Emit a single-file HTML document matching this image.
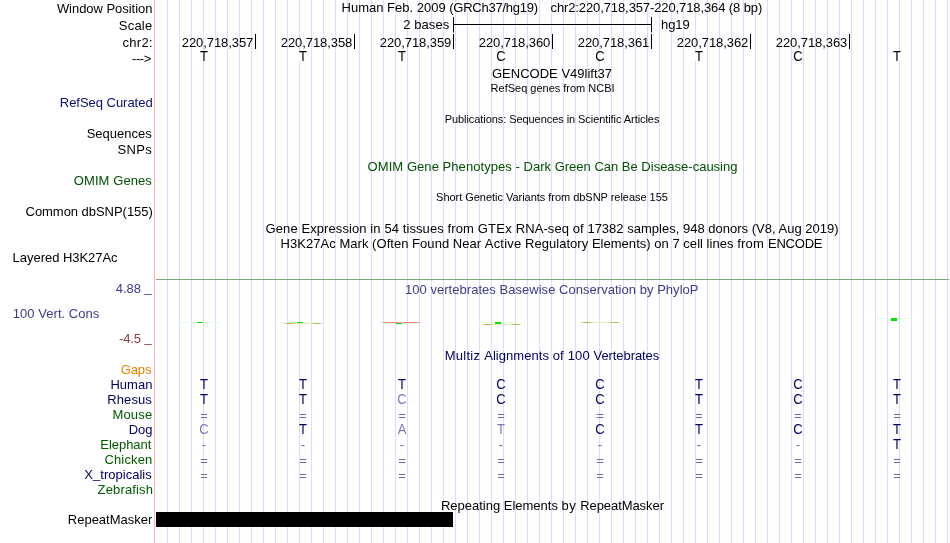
<!DOCTYPE html>
<html><head><meta charset="utf-8"><title>UCSC Genome Browser chr2:220,718,357-220,718,364</title>
<style>
html,body{margin:0;padding:0;background:#fff;}
body{width:950px;height:543px;position:relative;overflow:hidden;font-family:"Liberation Sans",Arial,Helvetica,sans-serif;font-size:13px;color:#000;}
.t{position:absolute;white-space:pre;line-height:16px;height:16px;}
.s{font-size:11px;}
.b{width:40px;text-align:center;}
.k{transform:scaleY(1.08);transform-origin:0 12px;}
.bx{position:absolute;}
.gl{position:absolute;top:0;width:1px;height:543px;background:rgb(220,220,255);}
</style></head><body>
<div class="gl" style="left:167px"></div>
<div class="gl" style="left:179px"></div>
<div class="gl" style="left:191px"></div>
<div class="gl" style="left:203px"></div>
<div class="gl" style="left:215px"></div>
<div class="gl" style="left:227px"></div>
<div class="gl" style="left:239px"></div>
<div class="gl" style="left:251px"></div>
<div class="gl" style="left:263px"></div>
<div class="gl" style="left:275px"></div>
<div class="gl" style="left:287px"></div>
<div class="gl" style="left:299px"></div>
<div class="gl" style="left:311px"></div>
<div class="gl" style="left:323px"></div>
<div class="gl" style="left:335px"></div>
<div class="gl" style="left:347px"></div>
<div class="gl" style="left:359px"></div>
<div class="gl" style="left:371px"></div>
<div class="gl" style="left:383px"></div>
<div class="gl" style="left:395px"></div>
<div class="gl" style="left:407px"></div>
<div class="gl" style="left:419px"></div>
<div class="gl" style="left:431px"></div>
<div class="gl" style="left:443px"></div>
<div class="gl" style="left:455px"></div>
<div class="gl" style="left:467px"></div>
<div class="gl" style="left:479px"></div>
<div class="gl" style="left:491px"></div>
<div class="gl" style="left:503px"></div>
<div class="gl" style="left:515px"></div>
<div class="gl" style="left:527px"></div>
<div class="gl" style="left:539px"></div>
<div class="gl" style="left:551px"></div>
<div class="gl" style="left:563px"></div>
<div class="gl" style="left:575px"></div>
<div class="gl" style="left:587px"></div>
<div class="gl" style="left:599px"></div>
<div class="gl" style="left:611px"></div>
<div class="gl" style="left:623px"></div>
<div class="gl" style="left:635px"></div>
<div class="gl" style="left:647px"></div>
<div class="gl" style="left:659px"></div>
<div class="gl" style="left:671px"></div>
<div class="gl" style="left:683px"></div>
<div class="gl" style="left:695px"></div>
<div class="gl" style="left:707px"></div>
<div class="gl" style="left:719px"></div>
<div class="gl" style="left:731px"></div>
<div class="gl" style="left:743px"></div>
<div class="gl" style="left:755px"></div>
<div class="gl" style="left:767px"></div>
<div class="gl" style="left:779px"></div>
<div class="gl" style="left:791px"></div>
<div class="gl" style="left:803px"></div>
<div class="gl" style="left:815px"></div>
<div class="gl" style="left:827px"></div>
<div class="gl" style="left:839px"></div>
<div class="gl" style="left:851px"></div>
<div class="gl" style="left:863px"></div>
<div class="gl" style="left:875px"></div>
<div class="gl" style="left:887px"></div>
<div class="gl" style="left:899px"></div>
<div class="gl" style="left:911px"></div>
<div class="gl" style="left:923px"></div>
<div class="gl" style="left:935px"></div>
<div class="gl" style="left:947px"></div>
<div class="bx" style="left:154px;top:0;width:1px;height:543px;background:rgb(255,180,180)"></div>
<div class="bx" style="left:156px;top:279px;width:793px;height:1px;background:rgb(122,170,122)"></div>
<div class="t" style="left:56.90px;top:1.00px;letter-spacing:-0.039px;color:#000">Window Position</div>
<div class="t" style="left:118.85px;top:18.00px;letter-spacing:0.188px;color:#000">Scale</div>
<div class="t" style="left:122.40px;top:35.00px;letter-spacing:0.337px;color:#000">chr2:</div>
<div class="t" style="left:132.00px;top:51.00px;letter-spacing:-0.433px;color:#000">---&gt;</div>
<div class="t" style="left:59.80px;top:95.00px;letter-spacing:-0.031px;color:rgb(12,12,120)">RefSeq Curated</div>
<div class="t" style="left:86.65px;top:126.00px;letter-spacing:0.006px;color:#000">Sequences</div>
<div class="t" style="left:117.55px;top:142.00px;letter-spacing:0.300px;color:#000">SNPs</div>
<div class="t" style="left:73.80px;top:173.00px;letter-spacing:0.083px;color:rgb(0,80,0)">OMIM Genes</div>
<div class="t" style="left:25.55px;top:204.00px;letter-spacing:-0.041px;color:#000">Common dbSNP(155)</div>
<div class="t" style="left:12.60px;top:250.00px;letter-spacing:-0.036px;color:#000">Layered H3K27Ac</div>
<div class="t" style="left:115.75px;top:281.00px;letter-spacing:-0.020px;color:rgb(60,60,140)">4.88 <span style="position:relative;top:-1px">_</span></div>
<div class="t" style="left:12.80px;top:306.00px;letter-spacing:0.038px;color:rgb(60,60,140)">100 Vert. Cons</div>
<div class="t" style="left:119.00px;top:331.00px;letter-spacing:-0.120px;color:rgb(140,60,60)">-4.5 <span style="position:relative;top:-1px">_</span></div>
<div class="t" style="left:120.75px;top:362.00px;letter-spacing:-0.117px;color:rgb(230,130,0)">Gaps</div>
<div class="t" style="left:110.40px;top:377.00px;letter-spacing:0.050px;color:rgb(0,0,100)">Human</div>
<div class="t" style="left:107.30px;top:392.00px;letter-spacing:0.100px;color:rgb(0,0,100)">Rhesus</div>
<div class="t" style="left:112.40px;top:407.00px;letter-spacing:0.175px;color:rgb(0,90,0)">Mouse</div>
<div class="t" style="left:128.70px;top:422.00px;letter-spacing:-0.050px;color:rgb(0,0,100)">Dog</div>
<div class="t" style="left:100.30px;top:437.00px;letter-spacing:-0.036px;color:rgb(0,90,0)">Elephant</div>
<div class="t" style="left:104.45px;top:452.00px;letter-spacing:0.150px;color:rgb(0,90,0)">Chicken</div>
<div class="t" style="left:84.35px;top:467.00px;letter-spacing:0.018px;color:rgb(0,0,100)">X<span style="position:relative;top:-1px">_</span>tropicalis</div>
<div class="t" style="left:97.60px;top:482.00px;letter-spacing:0.144px;color:rgb(0,90,0)">Zebrafish</div>
<div class="t" style="left:67.80px;top:512.00px;letter-spacing:-0.005px;color:#000">RepeatMasker</div>
<div class="t" style="left:341.60px;top:0.00px;letter-spacing:-0.002px;color:#000">Human Feb. 2009</div>
<div class="t" style="left:449.25px;top:0.00px;letter-spacing:-0.254px;color:#000">(GRCh37/hg19)</div>
<div class="t" style="left:550.50px;top:0.00px;letter-spacing:-0.106px;color:#000">chr2:220,718,357-220,718,364 (8 bp)</div>
<div class="t" style="left:491.95px;top:66.00px;letter-spacing:0.012px;color:#000">GENCODE V49lift37</div>
<div class="t s" style="left:490.60px;top:80.00px;letter-spacing:-0.005px;color:#000">RefSeq genes from NCBI</div>
<div class="t s" style="left:444.70px;top:111.00px;letter-spacing:-0.066px;color:#000">Publications: Sequences in Scientific Articles</div>
<div class="t" style="left:367.60px;top:159.00px;letter-spacing:0.060px;color:rgb(0,80,0)">OMIM Gene Phenotypes -</div>
<div class="t" style="left:523.60px;top:159.00px;letter-spacing:0.000px;color:rgb(0,80,0)">Dark Green Can Be Disease-causing</div>
<div class="t s" style="left:436.10px;top:189.00px;letter-spacing:-0.031px;color:#000">Short Genetic Variants from dbSNP release 155</div>
<div class="t" style="left:265.55px;top:221.00px;letter-spacing:0.093px;color:#000">Gene Expression in 54 tissues from</div>
<div class="t" style="left:477.65px;top:221.00px;letter-spacing:0.261px;color:#000">GTEx</div>
<div class="t" style="left:515.80px;top:221.00px;letter-spacing:0.072px;color:#000">RNA-seq of</div>
<div class="t" style="left:587.40px;top:221.00px;letter-spacing:0.010px;color:#000">17382 samples, 948 donors (V8, Aug 2019)</div>
<div class="t" style="left:280.60px;top:236.00px;letter-spacing:0.038px;color:#000">H3K27Ac Mark (Often Found Near</div>
<div class="t" style="left:484.80px;top:236.00px;letter-spacing:0.183px;color:#000">Active</div>
<div class="t" style="left:525.10px;top:236.00px;letter-spacing:0.028px;color:#000">Regulatory Elements) on 7 cell lines</div>
<div class="t" style="left:737.15px;top:236.00px;letter-spacing:0.245px;color:#000">from</div>
<div class="t" style="left:768.00px;top:236.00px;letter-spacing:-0.220px;color:#000">ENCODE</div>
<div class="t" style="left:405.00px;top:282.00px;letter-spacing:0.034px;color:rgb(60,60,140)">100 vertebrates Basewise Conservation by PhyloP</div>
<div class="t" style="left:444.70px;top:348.00px;letter-spacing:0.277px;color:rgb(0,0,100)">Multiz</div>
<div class="t" style="left:484.20px;top:348.00px;letter-spacing:0.053px;color:rgb(0,0,100)">Alignments</div>
<div class="t" style="left:552.70px;top:348.00px;letter-spacing:0.162px;color:rgb(0,0,100)">of 100</div>
<div class="t" style="left:593.60px;top:348.00px;letter-spacing:-0.090px;color:rgb(0,0,100)">Vertebrates</div>
<div class="t" style="left:440.90px;top:498.00px;letter-spacing:-0.005px;color:#000">Repeating Elements</div>
<div class="t" style="left:561.50px;top:498.00px;letter-spacing:0.452px;color:#000">by</div>
<div class="t" style="left:580.20px;top:498.00px;letter-spacing:-0.068px;color:#000">RepeatMasker</div>
<div class="t" style="left:403.25px;top:17.00px;letter-spacing:0.075px;color:#000">2 bases</div>
<div class="t" style="left:661.00px;top:17.00px;letter-spacing:-0.083px;color:#000">hg19</div>
<div class="t" style="left:181.75px;top:35.00px;letter-spacing:-0.070px;color:#000">220,718,357</div>
<div class="t" style="left:280.75px;top:35.00px;letter-spacing:-0.070px;color:#000">220,718,358</div>
<div class="t" style="left:379.75px;top:35.00px;letter-spacing:-0.070px;color:#000">220,718,359</div>
<div class="t" style="left:478.75px;top:35.00px;letter-spacing:-0.070px;color:#000">220,718,360</div>
<div class="t" style="left:577.75px;top:35.00px;letter-spacing:-0.070px;color:#000">220,718,361</div>
<div class="t" style="left:676.75px;top:35.00px;letter-spacing:-0.070px;color:#000">220,718,362</div>
<div class="t" style="left:775.75px;top:35.00px;letter-spacing:-0.070px;color:#000">220,718,363</div>
<div class="bx" style="left:453px;top:24px;width:199px;height:1px;background:#000"></div>
<div class="bx" style="left:453px;top:17px;width:1px;height:15px;background:#000"></div>
<div class="bx" style="left:651px;top:17px;width:1px;height:15px;background:#000"></div>
<div class="bx" style="left:453px;top:32px;width:1px;height:1px;background:#888"></div>
<div class="bx" style="left:651px;top:32px;width:1px;height:1px;background:#888"></div>
<div class="bx" style="left:255px;top:34px;width:1px;height:15px;background:#000"></div>
<div class="bx" style="left:354px;top:34px;width:1px;height:15px;background:#000"></div>
<div class="bx" style="left:453px;top:34px;width:1px;height:15px;background:#000"></div>
<div class="bx" style="left:552px;top:34px;width:1px;height:15px;background:#000"></div>
<div class="bx" style="left:651px;top:34px;width:1px;height:15px;background:#000"></div>
<div class="bx" style="left:750px;top:34px;width:1px;height:15px;background:#000"></div>
<div class="bx" style="left:849px;top:34px;width:1px;height:15px;background:#000"></div>
<div class="bx" style="left:200px;top:51px;width:9px;height:10px;background:#fff"></div>
<div class="t b k" style="left:184.00px;top:49.00px">T</div>
<div class="bx" style="left:299px;top:51px;width:9px;height:10px;background:#fff"></div>
<div class="t b k" style="left:283.00px;top:49.00px">T</div>
<div class="bx" style="left:398px;top:51px;width:9px;height:10px;background:#fff"></div>
<div class="t b k" style="left:382.00px;top:49.00px">T</div>
<div class="bx" style="left:497px;top:51px;width:9px;height:10px;background:#fff"></div>
<div class="t b k" style="left:481.00px;top:49.00px">C</div>
<div class="bx" style="left:596px;top:51px;width:9px;height:10px;background:#fff"></div>
<div class="t b k" style="left:580.00px;top:49.00px">C</div>
<div class="bx" style="left:695px;top:51px;width:9px;height:10px;background:#fff"></div>
<div class="t b k" style="left:679.00px;top:49.00px">T</div>
<div class="bx" style="left:794px;top:51px;width:9px;height:10px;background:#fff"></div>
<div class="t b k" style="left:778.00px;top:49.00px">C</div>
<div class="bx" style="left:893px;top:51px;width:9px;height:10px;background:#fff"></div>
<div class="t b k" style="left:877.00px;top:49.00px">T</div>
<div class="t b k" style="left:184.00px;top:377.00px;color:rgb(0,0,100)">T</div>
<div class="t b k" style="left:283.00px;top:377.00px;color:rgb(0,0,100)">T</div>
<div class="t b k" style="left:382.00px;top:377.00px;color:rgb(0,0,100)">T</div>
<div class="t b k" style="left:481.00px;top:377.00px;color:rgb(0,0,100)">C</div>
<div class="t b k" style="left:580.00px;top:377.00px;color:rgb(0,0,100)">C</div>
<div class="t b k" style="left:679.00px;top:377.00px;color:rgb(0,0,100)">T</div>
<div class="t b k" style="left:778.00px;top:377.00px;color:rgb(0,0,100)">C</div>
<div class="t b k" style="left:877.00px;top:377.00px;color:rgb(0,0,100)">T</div>
<div class="t b k" style="left:184.00px;top:392.00px;color:rgb(0,0,100)">T</div>
<div class="t b k" style="left:283.00px;top:392.00px;color:rgb(0,0,100)">T</div>
<div class="t b k" style="left:382.00px;top:392.00px;color:rgb(122,122,178)">C</div>
<div class="t b k" style="left:481.00px;top:392.00px;color:rgb(0,0,100)">C</div>
<div class="t b k" style="left:580.00px;top:392.00px;color:rgb(0,0,100)">C</div>
<div class="t b k" style="left:679.00px;top:392.00px;color:rgb(0,0,100)">T</div>
<div class="t b k" style="left:778.00px;top:392.00px;color:rgb(0,0,100)">C</div>
<div class="t b k" style="left:877.00px;top:392.00px;color:rgb(0,0,100)">T</div>
<div class="t b" style="left:184.00px;top:408.00px;color:rgb(108,108,165)">=</div>
<div class="t b" style="left:283.00px;top:408.00px;color:rgb(108,108,165)">=</div>
<div class="t b" style="left:382.00px;top:408.00px;color:rgb(108,108,165)">=</div>
<div class="t b" style="left:481.00px;top:408.00px;color:rgb(108,108,165)">=</div>
<div class="t b" style="left:580.00px;top:408.00px;color:rgb(108,108,165)">=</div>
<div class="t b" style="left:679.00px;top:408.00px;color:rgb(108,108,165)">=</div>
<div class="t b" style="left:778.00px;top:408.00px;color:rgb(108,108,165)">=</div>
<div class="t b" style="left:877.00px;top:408.00px;color:rgb(108,108,165)">=</div>
<div class="t b k" style="left:184.00px;top:422.00px;color:rgb(122,122,178)">C</div>
<div class="t b k" style="left:283.00px;top:422.00px;color:rgb(0,0,100)">T</div>
<div class="t b k" style="left:382.00px;top:422.00px;color:rgb(122,122,178)">A</div>
<div class="t b k" style="left:481.00px;top:422.00px;color:rgb(122,122,178)">T</div>
<div class="t b k" style="left:580.00px;top:422.00px;color:rgb(0,0,100)">C</div>
<div class="t b k" style="left:679.00px;top:422.00px;color:rgb(0,0,100)">T</div>
<div class="t b k" style="left:778.00px;top:422.00px;color:rgb(0,0,100)">C</div>
<div class="t b k" style="left:877.00px;top:422.00px;color:rgb(0,0,100)">T</div>
<div class="t b" style="left:184.00px;top:437.00px;color:rgb(108,108,165)">-</div>
<div class="t b" style="left:283.00px;top:437.00px;color:rgb(108,108,165)">-</div>
<div class="t b" style="left:382.00px;top:437.00px;color:rgb(108,108,165)">-</div>
<div class="t b" style="left:481.00px;top:437.00px;color:rgb(108,108,165)">-</div>
<div class="t b" style="left:580.00px;top:437.00px;color:rgb(108,108,165)">-</div>
<div class="t b" style="left:679.00px;top:437.00px;color:rgb(108,108,165)">-</div>
<div class="t b" style="left:778.00px;top:437.00px;color:rgb(108,108,165)">-</div>
<div class="t b k" style="left:877.00px;top:437.00px;color:rgb(0,0,100)">T</div>
<div class="t b" style="left:184.00px;top:453.00px;color:rgb(108,108,165)">=</div>
<div class="t b" style="left:283.00px;top:453.00px;color:rgb(108,108,165)">=</div>
<div class="t b" style="left:382.00px;top:453.00px;color:rgb(108,108,165)">=</div>
<div class="t b" style="left:481.00px;top:453.00px;color:rgb(108,108,165)">=</div>
<div class="t b" style="left:580.00px;top:453.00px;color:rgb(108,108,165)">=</div>
<div class="t b" style="left:679.00px;top:453.00px;color:rgb(108,108,165)">=</div>
<div class="t b" style="left:778.00px;top:453.00px;color:rgb(108,108,165)">=</div>
<div class="t b" style="left:877.00px;top:453.00px;color:rgb(108,108,165)">=</div>
<div class="t b" style="left:184.00px;top:468.00px;color:rgb(108,108,165)">=</div>
<div class="t b" style="left:283.00px;top:468.00px;color:rgb(108,108,165)">=</div>
<div class="t b" style="left:382.00px;top:468.00px;color:rgb(108,108,165)">=</div>
<div class="t b" style="left:481.00px;top:468.00px;color:rgb(108,108,165)">=</div>
<div class="t b" style="left:580.00px;top:468.00px;color:rgb(108,108,165)">=</div>
<div class="t b" style="left:679.00px;top:468.00px;color:rgb(108,108,165)">=</div>
<div class="t b" style="left:778.00px;top:468.00px;color:rgb(108,108,165)">=</div>
<div class="t b" style="left:877.00px;top:468.00px;color:rgb(108,108,165)">=</div>
<div class="bx" style="left:156px;top:512px;width:297px;height:15px;background:#000"></div>
<div class="bx" style="left:181px;top:322px;width:38px;height:1px;background:rgb(222,255,222)"></div>
<div class="bx" style="left:197px;top:322px;width:6px;height:1px;background:rgb(0,230,0)"></div>
<div class="bx" style="left:281px;top:322px;width:38px;height:1px;background:rgb(222,255,222)"></div>
<div class="bx" style="left:283px;top:323px;width:40px;height:1px;background:linear-gradient(to right,rgba(170,160,40,0) 0%,rgb(175,165,50) 12%,rgb(185,175,70) 20%,rgb(232,232,190) 32%,rgb(236,236,200) 68%,rgb(195,185,90) 82%,rgb(185,175,70) 90%,rgba(170,160,40,0) 100%)"></div>
<div class="bx" style="left:297px;top:322px;width:6px;height:1px;background:rgb(0,230,0)"></div>
<div class="bx" style="left:380px;top:323px;width:39px;height:1px;background:rgb(222,255,222)"></div>
<div class="bx" style="left:380px;top:322px;width:42px;height:1px;background:linear-gradient(to right,rgba(255,120,120,0) 0%,rgb(255,130,130) 12%,rgb(255,120,120) 40%,rgb(255,190,190) 50%,rgb(255,120,120) 60%,rgb(255,130,130) 88%,rgba(255,120,120,0) 100%)"></div>
<div class="bx" style="left:396px;top:323px;width:6px;height:1px;background:rgb(0,230,0)"></div>
<div class="bx" style="left:479px;top:322px;width:38px;height:1px;background:rgb(222,255,222)"></div>
<div class="bx" style="left:481px;top:324px;width:41px;height:1px;background:linear-gradient(to right,rgba(170,160,40,0) 0%,rgb(175,165,50) 12%,rgb(185,175,70) 20%,rgb(232,232,190) 32%,rgb(236,236,200) 68%,rgb(195,185,90) 82%,rgb(185,175,70) 90%,rgba(170,160,40,0) 100%)"></div>
<div class="bx" style="left:495px;top:322px;width:6px;height:2px;background:rgb(0,230,0)"></div>
<div class="bx" style="left:580px;top:322px;width:41px;height:1px;background:linear-gradient(to right,rgba(170,160,40,0) 0%,rgb(175,165,50) 12%,rgb(185,175,70) 20%,rgb(232,232,190) 32%,rgb(236,236,200) 68%,rgb(195,185,90) 82%,rgb(185,175,70) 90%,rgba(170,160,40,0) 100%)"></div>
<div class="bx" style="left:875px;top:318px;width:38px;height:1px;background:rgb(222,255,222)"></div>
<div class="bx" style="left:891px;top:318px;width:6px;height:3px;background:rgb(0,230,0)"></div>
</body></html>
